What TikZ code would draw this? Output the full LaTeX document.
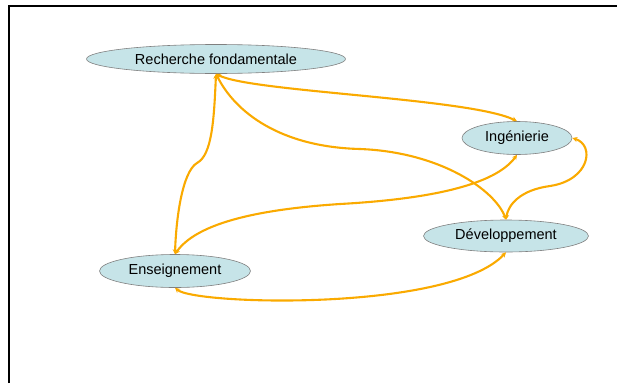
\documentclass[tikz,border=0pt]{standalone}
\usepackage{fontspec}
\setmainfont{Liberation Sans}
\usepackage{tikz}
\usetikzlibrary{shapes.geometric,arrows.meta}

\definecolor{bleuclair}{RGB}{198,228,232}
\definecolor{orangelien}{RGB}{250,170,0}

\begin{document}
\begin{tikzpicture}[
    x=1pt, y=-1pt,
    bulle/.style={ellipse, draw=black!50, line width=0.6pt, fill=bleuclair, inner sep=0pt,
                  minimum height=32pt, font=\fontsize{14.5}{16}\selectfont},
    lien/.style={draw=orangelien, line width=2.1pt, line cap=round,
                 {Stealth[length=5pt,width=5pt]}-{Stealth[length=5pt,width=5pt]}}
]
\useasboundingbox (0,0) rectangle (617,383);

% Frame
\draw[line width=1.6pt] (9,383) -- (9,6) -- (617,6);

% Activities
\node[bulle, minimum width=259pt, minimum height=29pt] (rech) at (216,59) {Recherche fondamentale};
\node[bulle, minimum width=110pt, minimum height=33pt] (ing) at (517,138) {Ingénierie};
\node[bulle, minimum width=165pt] (dev) at (506,236) {Développement};
\node[bulle, minimum width=151pt, minimum height=33pt] (ens) at (175,271) {Enseignement};

% Links
\draw[lien] (rech.south) .. controls (250,92) and (470,98) .. (ing.north);
\draw[lien] (rech.south) .. controls (235,112) and (280,147) .. (360,149)
            .. controls (440,152) and (495,190) .. (dev.north);
\draw[lien] (rech.south) .. controls (214,120) and (212,155) .. (197,163)
            .. controls (182,172) and (176,220) .. (ens.north);
\draw[lien] (ens.north) .. controls (200,218) and (280,208) .. (340,204)
            .. controls (430,199) and (495,185) .. (ing.south);
\draw[lien] (ing.east) .. controls (595,145) and (590,180) .. (550,186)
            .. controls (520,190) and (508,205) .. (dev.north);
\draw[lien] (ens.south) .. controls (195,305) and (450,312) .. (dev.south);

\end{tikzpicture}
\end{document}
